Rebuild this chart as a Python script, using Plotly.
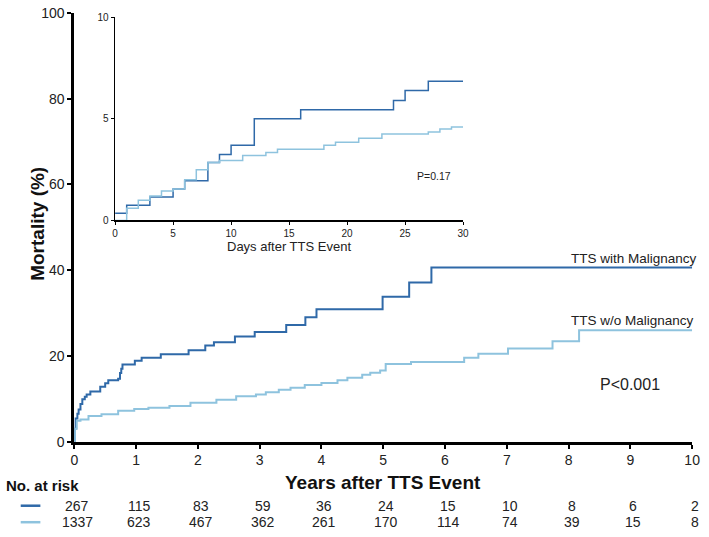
import plotly.graph_objects as go

# main curves (years, cumulative mortality %)
years_mal = [0, 0.01, 0.02, 0.05, 0.07, 0.10, 0.13, 0.17, 0.20, 0.26, 0.42, 0.50, 0.55, 0.71, 0.74, 0.76, 0.78,
             0.98, 1.09, 1.40, 1.85, 2.12, 2.26, 2.60, 2.92, 3.43, 3.74, 3.92, 4.99, 5.42, 5.78, 10]
mort_mal = [0, 3.0, 5.4, 6.5, 7.5, 8.8, 9.9, 10.5, 11.0, 11.7, 12.8, 13.6, 14.3, 14.7, 16.0, 17.0, 18.0,
            18.9, 19.6, 20.4, 21.3, 22.4, 23.2, 24.5, 25.6, 27.2, 29.0, 30.9, 33.8, 37.1, 40.6, 40.6]

years_nomal = [0, 0.01, 0.04, 0.10, 0.23, 0.44, 0.71, 0.97, 1.20, 1.54, 1.88, 2.30, 2.62, 2.94, 3.10, 3.31,
               3.50, 3.73, 4.00, 4.26, 4.42, 4.66, 4.79, 4.95, 5.04, 5.45, 6.31, 6.54, 7.02, 7.74, 8.17, 10]
mort_nomal = [0, 3.0, 4.9, 5.2, 6.0, 6.4, 7.2, 7.6, 7.9, 8.3, 9.1, 9.8, 10.6, 11.0, 11.5, 12.1,
              12.6, 13.2, 13.7, 14.3, 14.9, 15.6, 16.1, 16.6, 18.1, 18.6, 19.6, 20.5, 21.7, 23.4, 26.0, 26.0]

# inset curves (days, %)
days_mal = [0, 1, 3, 5, 6, 8, 9, 10, 12, 16, 24, 25, 27, 30]
inset_mal = [0.35, 0.75, 1.15, 1.55, 1.95, 2.85, 3.25, 3.7, 5.0, 5.45, 5.9, 6.4, 6.85, 6.85]

days_nomal = [0, 1, 2, 3, 4, 5, 6, 7, 8, 9, 11, 13, 14, 18, 19, 21, 23, 27, 28, 29, 30]
inset_nomal = [0, 0.6, 1.0, 1.2, 1.45, 1.55, 2.0, 2.5, 2.85, 2.95, 3.2, 3.35, 3.5, 3.7, 3.85, 4.05, 4.25,
               4.35, 4.5, 4.6, 4.6]

# numbers at risk
risk_years = list(range(11))
risk_mal = [267, 115, 83, 59, 36, 24, 15, 10, 8, 6, 2]
risk_nomal = [1337, 623, 467, 362, 261, 170, 114, 74, 39, 15, 8]

DARK = "#2f69a8"
LIGHT = "#8ec3de"
FONT = "Arial, Liberation Sans, sans-serif"
W, H = 709, 537

fig = go.Figure()
fig.add_trace(go.Scatter(x=years_mal, y=mort_mal, mode="lines", line=dict(color=DARK, width=2, shape="hv"),
                         xaxis="x", yaxis="y"))
fig.add_trace(go.Scatter(x=years_nomal, y=mort_nomal, mode="lines", line=dict(color=LIGHT, width=2, shape="hv"),
                         xaxis="x", yaxis="y"))
fig.add_trace(go.Scatter(x=days_mal, y=inset_mal, mode="lines", line=dict(color=DARK, width=1.5, shape="hv"),
                         xaxis="x2", yaxis="y2"))
fig.add_trace(go.Scatter(x=days_nomal, y=inset_nomal, mode="lines", line=dict(color=LIGHT, width=1.5, shape="hv"),
                         xaxis="x2", yaxis="y2"))

x_dom = [71.5 / W, 700 / W]
y_dom = [(H - 447) / H, (H - 5) / H]
x2_dom = [113 / W, 467 / W]
y2_dom = [(H - 219) / H, (H - 9.5) / H]

fig.update_layout(
    width=W, height=H,
    margin=dict(l=0, r=0, t=0, b=0),
    paper_bgcolor="white", plot_bgcolor="rgba(0,0,0,0)",
    showlegend=False, hovermode=False,
    font=dict(family=FONT, color="#222"),
    xaxis=dict(domain=x_dom, range=[0, 10], tickvals=risk_years, showgrid=False, zeroline=False,
               showline=True, linecolor="black", linewidth=3, ticks="outside", ticklen=4, tickwidth=2,
               tickcolor="black", tickfont=dict(size=14), anchor="y"),
    yaxis=dict(domain=y_dom, range=[0, 100], tickvals=[0, 20, 40, 60, 80, 100], showgrid=False,
               zeroline=False, showline=True, linecolor="black", linewidth=3, ticks="outside", ticklen=4,
               tickwidth=2, tickcolor="black", tickfont=dict(size=14), anchor="x"),
    xaxis2=dict(domain=x2_dom, range=[0, 30], tickvals=[0, 5, 10, 15, 20, 25, 30], showgrid=False,
                zeroline=False, showline=True, linecolor="black", linewidth=1.5, ticks="outside", ticklen=3,
                tickwidth=1, tickcolor="black", tickfont=dict(size=10), anchor="y2"),
    yaxis2=dict(domain=y2_dom, range=[0, 10], tickvals=[0, 5, 10], showgrid=False, zeroline=False,
                showline=True, linecolor="black", linewidth=1.5, ticks="outside", ticklen=3, tickwidth=1,
                tickcolor="black", tickfont=dict(size=10), anchor="x2"),
)

ann = []
ann.append(dict(text="<b>Mortality (%)</b>", x=34 / W, y=1 - 222 / H, xref="paper", yref="paper",
                xanchor="center", yanchor="middle", textangle=-90, showarrow=False,
                font=dict(size=19, color="#111")))
ann.append(dict(text="<b>Years after TTS Event</b>", x=5, y=1 - 489 / H, xref="x", yref="paper",
                xanchor="center", yanchor="middle", showarrow=False, font=dict(size=19, color="#111")))
ann.append(dict(text="<b>No. at risk</b>", x=0, y=1 - 492 / H, xref="paper", yref="paper", xanchor="left",
                yanchor="middle", showarrow=False, font=dict(size=15, color="#111")))
ann.append(dict(text="Days after TTS Event", x=15, y=1 - 246 / H, xref="x2", yref="paper",
                xanchor="center", yanchor="middle", showarrow=False, font=dict(size=13, color="#222")))
ann.append(dict(text="P=0.17", x=27.5, y=2.2, xref="x2", yref="y2", showarrow=False,
                font=dict(size=10.5, color="#222")))
ann.append(dict(text="P<0.001", x=9.0, y=13.3, xref="x", yref="y", showarrow=False,
                font=dict(size=16, color="#222")))
ann.append(dict(text="TTS with Malignancy", x=10, y=42.8, xref="x", yref="y", xanchor="right", xshift=7,
                showarrow=False, font=dict(size=13.5, color="#222")))
ann.append(dict(text="TTS w/o Malignancy", x=10, y=28.2, xref="x", yref="y", xanchor="right", xshift=4,
                showarrow=False, font=dict(size=13.5, color="#222")))
for yr, a, b in zip(risk_years, risk_mal, risk_nomal):
    ann.append(dict(text=str(a), x=yr, y=1 - 513 / H, xref="x", yref="paper", xanchor="center", xshift=3,
                    yanchor="middle", showarrow=False, font=dict(size=14, color="#222")))
    ann.append(dict(text=str(b), x=yr, y=1 - 530 / H, xref="x", yref="paper", xanchor="center", xshift=3,
                    yanchor="middle", showarrow=False, font=dict(size=14, color="#222")))
fig.update_layout(annotations=ann)

# legend dashes in the risk table
fig.add_shape(type="line", xref="paper", yref="paper", x0=17 / W, x1=37 / W, y0=1 - 513 / H, y1=1 - 513 / H,
              line=dict(color=DARK, width=2.5))
fig.add_shape(type="line", xref="paper", yref="paper", x0=17 / W, x1=37 / W, y0=1 - 530 / H, y1=1 - 530 / H,
              line=dict(color=LIGHT, width=2.5))

# drop the browser's default 8px body margin so the figure sits at the page origin
fig.write_html("out.html", config={"displayModeBar": False, "staticPlot": True},
               post_script="document.body.style.margin='0';")
